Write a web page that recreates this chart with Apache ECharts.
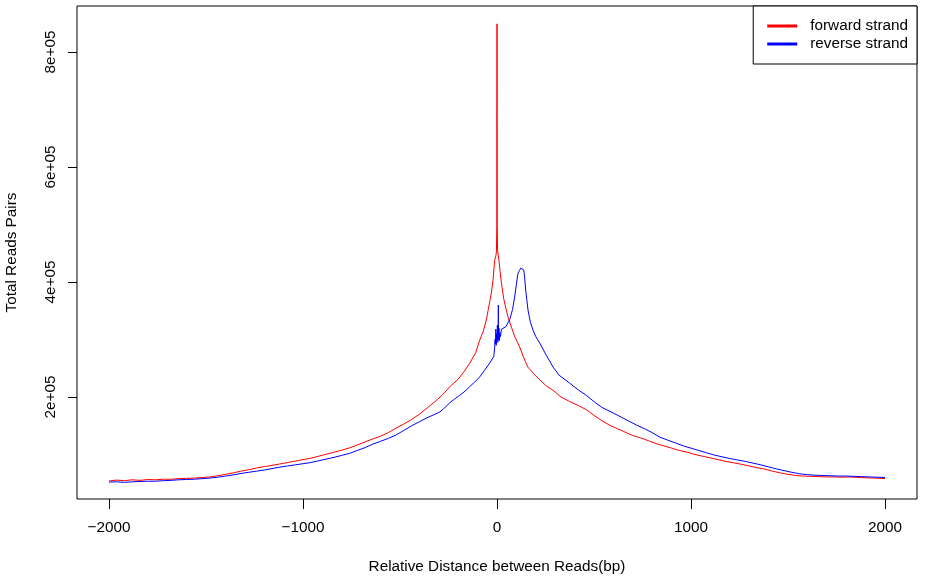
<!DOCTYPE html>
<html>
<head>
<meta charset="utf-8">
<script src="https://cdn.jsdelivr.net/npm/echarts@6/dist/echarts.min.js"></script>
<style>
html,body{margin:0;padding:0;background:#fff;}
#chart{width:932px;height:582px;}
</style>
</head>
<body>
<div id="chart"></div>
<script>
// ---- data ----
const seriesNames = ['forward strand', 'reverse strand'];
const xTicks = [-2000, -1000, 0, 1000, 2000];
const yTicks = [200000, 400000, 600000, 800000];
const yTickLabels = ['2e+05', '4e+05', '6e+05', '8e+05'];

const fwdX = [-2000,-1960,-1920,-1880,-1840,-1800,-1760,-1720,-1680,-1640,-1600,-1560,-1520,-1480,-1440,-1400,-1360,-1320,-1280,-1240,-1200,-1160,-1120,-1080,-1040,-1000,-960,-920,-880,-840,-800,-760,-720,-680,-640,-600,-560,-520,-480,-440,-400,-360,-320,-280,-240,-200,-170,-140,-110,-89,-70,-55,-45,-35,-29,-20,-12,-6,-3,-1,0,1,3,6,10,16,23,34,48,60,74,90,104,117,138,159,190,220,255,288,330,375,420,460,500,540,580,620,660,700,740,780,820,860,900,940,980,1020,1060,1100,1140,1180,1220,1260,1300,1340,1380,1420,1460,1500,1540,1580,1620,1660,1700,1740,1780,1820,1860,1900,1940,1980,2000];
const fwdY = [54000,55500,54500,56000,55000,56500,56000,57000,57000,58000,58500,59000,60000,61000,63000,65500,68000,71000,73500,76500,79000,81000,83500,86000,88500,91000,93500,97000,100500,104000,107500,111500,116500,122000,127000,132000,138000,146000,153000,161000,170000,181000,192000,204000,219000,231000,244000,259000,277000,299000,315000,334000,352000,370000,381000,405000,438000,445000,452000,496000,849000,497000,455000,447000,438000,418000,398000,372000,351000,335000,322000,306000,296000,287000,268000,252000,240000,230000,219000,212000,200000,192000,185000,178000,168000,159000,151000,145000,139000,133000,129000,124000,119000,115000,111000,107000,104000,100000,97000,94000,91000,88000,85500,83000,80000,77000,74500,71000,68000,65500,63500,62500,62000,61500,61000,61000,60500,61000,60000,59500,59000,58500,58000];

const revX = [-2000,-1960,-1920,-1880,-1840,-1800,-1760,-1720,-1680,-1640,-1600,-1560,-1520,-1480,-1440,-1400,-1360,-1320,-1280,-1240,-1200,-1160,-1120,-1080,-1040,-1000,-960,-920,-880,-840,-800,-760,-720,-680,-640,-600,-560,-520,-480,-440,-400,-360,-320,-295,-270,-244,-220,-192,-165,-141,-115,-89,-65,-38,-17,-12,-10,-8,-6,-4,-2,0,2,4,6,7,8,10,12,15,18,23,31,45,65,80,91,100,108,116,122,126,131,138,143,148,154,160,172,186,200,220,255,289,320,375,420,460,500,540,600,640,680,720,760,800,840,880,920,960,1000,1040,1080,1120,1160,1200,1240,1280,1320,1360,1400,1440,1480,1520,1560,1600,1640,1680,1720,1760,1800,1840,1880,1920,1960,2000];
const revY = [52000,52500,51500,52500,53000,53500,53500,54500,55000,56000,56500,57000,58000,59000,60500,62500,64500,67000,69000,71000,73000,75500,78000,80000,82000,84000,86000,89000,92000,95000,98500,102000,107000,112000,118000,123000,128000,134000,142000,150000,157000,164000,170000,174000,181000,190000,196000,203000,210000,218000,226000,235000,246000,259000,270000,285000,300000,292000,318000,290000,310000,300000,325000,295000,315000,360000,300000,320000,298000,312000,305000,318000,316000,322000,334000,352000,374000,396000,415000,420000,424000,421000,426000,421000,405000,386000,368000,351000,330000,316000,305000,294000,272000,252000,238000,224000,212000,203000,192000,182000,172000,165000,158000,151000,145000,138000,130000,125000,120000,115000,111000,107000,103000,99000,96000,93000,90500,88000,85000,82000,78500,75000,72000,69000,66500,65000,64000,63500,63000,62500,62500,62000,61500,61000,60500,60000];

// ---- chart ----
const FONT = '"Liberation Sans", Arial, Helvetica, sans-serif';
const FS = 15.3;
const pairs = (xs, ys) => xs.map((x, i) => [x, ys[i]]);

const chart = echarts.init(document.getElementById('chart'), null, {renderer: 'canvas'});
chart.setOption({
  animation: false,
  backgroundColor: '#ffffff',
  textStyle: {fontFamily: FONT, color: '#000'},
  grid: {
    left: 77, right: 15, top: 6, bottom: 83,
    outerBoundsMode: 'none',
    containLabel: false,
    show: true, borderColor: '#000', borderWidth: 1, backgroundColor: 'transparent'
  },
  legend: {
    orient: 'vertical',
    right: 15, top: 6,
    padding: [11, 9, 11, 14],
    itemGap: 0,
    itemWidth: 30,
    itemHeight: 3,
    icon: 'rect',
    borderColor: '#000', borderWidth: 1, borderRadius: 0,
    backgroundColor: '#fff',
    textStyle: {fontFamily: FONT, fontSize: FS, color: '#000', lineHeight: 18, padding: [0, 0, 0, 8]},
    data: seriesNames
  },
  xAxis: {
    type: 'value',
    min: -2165, max: 2165,
    splitLine: {show: false},
    axisLine: {show: false, onZero: false},
    axisTick: {show: true, length: 10, lineStyle: {color: '#000'}, customValues: xTicks},
    axisLabel: {show: true, fontFamily: FONT, fontSize: FS, color: '#000', margin: 21,
      customValues: xTicks,
      formatter: v => (v < 0 ? '\u2212' + Math.abs(v) : String(v))},
    name: 'Relative Distance between Reads(bp)',
    nameLocation: 'middle',
    nameGap: 60,
    nameTextStyle: {fontFamily: FONT, fontSize: FS, color: '#000'}
  },
  yAxis: {
    type: 'value',
    min: 22600, max: 880000,
    splitLine: {show: false},
    axisLine: {show: false, onZero: false},
    axisTick: {show: true, length: 9, lineStyle: {color: '#000'}, customValues: yTicks},
    axisLabel: {show: true, fontFamily: FONT, fontSize: FS, color: '#000', margin: 19, rotate: 90,
      customValues: yTicks,
      formatter: v => yTickLabels[yTicks.indexOf(v)] || ''},
    name: 'Total Reads Pairs',
    nameLocation: 'middle',
    nameGap: 58,
    nameRotate: 90,
    nameTextStyle: {fontFamily: FONT, fontSize: FS, color: '#000'}
  },
  series: [
    {
      name: seriesNames[0], type: 'line', data: pairs(fwdX, fwdY),
      showSymbol: false, symbol: 'none', color: '#ff0000',
      lineStyle: {color: '#ff0000', width: 1}, z: 2
    },
    {
      name: seriesNames[1], type: 'line', data: pairs(revX, revY),
      showSymbol: false, symbol: 'none', color: '#0000ff',
      lineStyle: {color: '#0000ff', width: 1}, z: 3
    }
  ]
});
</script>
</body>
</html>
